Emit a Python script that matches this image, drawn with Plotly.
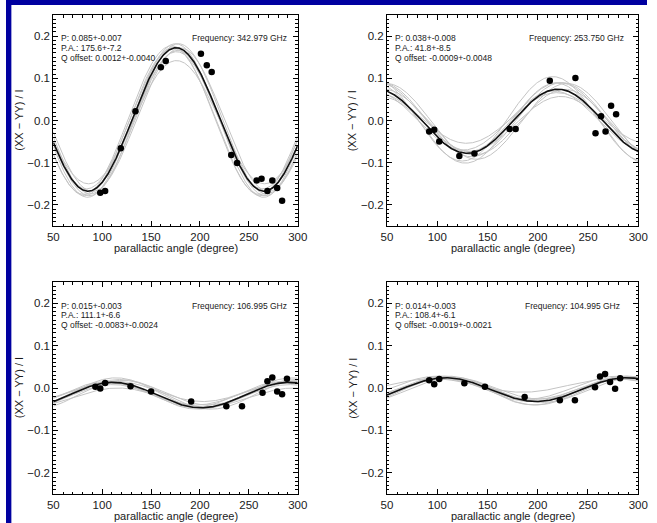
import numpy as np
import plotly.graph_objects as go

# ---------------- data ----------------
freq_labels = ["Frequency: 342.979 GHz", "Frequency: 253.750 GHz",
               "Frequency: 106.995 GHz", "Frequency: 104.995 GHz"]
fit_texts = [
    ["P: 0.085+-0.007", "P.A.: 175.6+-7.2", "Q offset: 0.0012+-0.0040"],
    ["P: 0.038+-0.008", "P.A.: 41.8+-8.5", "Q offset: -0.0009+-0.0048"],
    ["P: 0.015+-0.003", "P.A.: 111.1+-6.6", "Q offset: -0.0083+-0.0024"],
    ["P: 0.014+-0.003", "P.A.: 108.4+-6.1", "Q offset: -0.0019+-0.0021"],
]

# measured points (parallactic angle, (XX-YY)/I)
ang1 = [98, 103, 119, 134, 160, 165, 201, 207, 212, 232, 238, 258, 263, 269, 274, 279, 284]
val1 = [-0.171, -0.167, -0.066, 0.022, 0.126, 0.141, 0.158, 0.131, 0.115, -0.082, -0.101,
        -0.142, -0.138, -0.167, -0.142, -0.160, -0.190]
ang2 = [92, 97, 102, 122, 137, 172, 178, 212, 237.5, 257.5, 263, 267.5, 273, 278]
val2 = [-0.026, -0.022, -0.050, -0.084, -0.078, -0.020, -0.020, 0.094, 0.101, -0.030,
        0.010, -0.026, 0.035, 0.015]
ang3 = [93, 98, 103, 129, 150, 191, 227, 243, 264, 269, 274, 279, 284, 289]
val3 = [0.003, -0.001, 0.012, 0.004, -0.008, -0.032, -0.043, -0.043, -0.011, 0.016,
        0.025, -0.008, -0.015, 0.022]
ang4 = [92, 97, 102, 127, 147.5, 187, 222, 237, 257, 262, 267, 272, 277, 282]
val4 = [0.018, 0.009, 0.021, 0.011, 0.003, -0.021, -0.029, -0.029, 0.002, 0.027,
        0.033, 0.014, -0.002, 0.023]
angles = [ang1, ang2, ang3, ang4]
values = [val1, val2, val3, val4]

# best-fit curve parameters (amplitude, position angle, offset)
best_amp = [0.170, 0.076, 0.030, 0.028]
best_pa = [175.6, 40.0, 111.1, 108.4]
best_off = [0.0024, -0.0018, -0.0166, -0.0038]

# grey realisation curve parameters per panel
grey_amp = [
    [0.182, 0.178, 0.175, 0.172, 0.170, 0.168, 0.165, 0.176, 0.146],
    [0.100, 0.095, 0.088, 0.082, 0.078, 0.070, 0.065, 0.060, 0.090],
    [0.036, 0.032, 0.030, 0.028, 0.026, 0.034, 0.024, 0.030, 0.022],
    [0.034, 0.030, 0.028, 0.026, 0.032, 0.024, 0.029, 0.016, 0.027],
]
grey_pa = [
    [175, 178, 172, 177, 180, 174, 176, 171, 176],
    [35, 38, 44, 41, 47, 36, 43, 39, 49],
    [114, 108, 118, 111, 106, 121, 113, 104, 116],
    [106, 110, 103, 113, 108, 105, 115, 95, 100],
]
grey_off = [
    [0.000, 0.004, -0.003, -0.006, 0.002, 0.006, -0.002, 0.001, -0.004],
    [0.004, -0.006, 0.002, 0.008, -0.004, 0.000, -0.008, 0.006, -0.002],
    [-0.012, -0.018, -0.010, -0.020, -0.014, -0.016, -0.008, -0.015, -0.022],
    [-0.006, -0.002, -0.004, 0.000, -0.008, -0.003, -0.005, 0.006, 0.001],
]

x_ticks = [50, 100, 150, 200, 250, 300]
y_ticks = [-0.2, -0.1, 0.0, 0.1, 0.2]
y_tick_text = ["\u22120.2", "\u22120.1", "0.0", "0.1", "0.2"]
freq_x = [291, 288.3, 291.5, 283.5]

# ---------------- layout geometry ----------------
W, H = 657, 523
xdom = [(48.5, 299), (390.5, 648), (48.5, 299), (390.5, 648)]
ydom = [(15, 226), (15, 226), (282, 494), (282, 494)]


def model(chi, a, pa, off):
    chi = np.asarray(chi, dtype=float)
    return a * np.cos(np.radians(2 * (chi - pa))) + off


chi = np.linspace(50, 300, 501)
FONT = "Liberation Sans, Arial, sans-serif"
TXT = "#1a1a1a"

fig = go.Figure()
layout = dict(
    width=W, height=H, margin=dict(l=0, r=0, t=0, b=0),
    paper_bgcolor="white", plot_bgcolor="white", showlegend=False,
    font=dict(family=FONT, color=TXT),
)
annotations = []
shapes = [
    dict(type="rect", xref="paper", yref="paper", x0=0, x1=5.5 / W, y0=0, y1=1,
         fillcolor="#0000A0", line=dict(width=0), layer="below"),
    dict(type="rect", xref="paper", yref="paper", x0=0, x1=1, y0=1 - 5 / H, y1=1,
         fillcolor="#0000A0", line=dict(width=0), layer="below"),
]

for i in range(4):
    n = "" if i == 0 else str(i + 1)
    xa, ya = "x" + n, "y" + n
    for a, pa, off in zip(grey_amp[i], grey_pa[i], grey_off[i]):
        fig.add_trace(go.Scatter(x=chi, y=model(chi, a, pa, off), mode="lines",
                                 line=dict(color="#c4c4c4", width=1),
                                 xaxis=xa, yaxis=ya, hoverinfo="skip"))
    fig.add_trace(go.Scatter(x=chi, y=model(chi, best_amp[i], best_pa[i], best_off[i]),
                             mode="lines", line=dict(color="#111111", width=1.6),
                             xaxis=xa, yaxis=ya))
    fig.add_trace(go.Scatter(x=angles[i], y=values[i], mode="markers",
                             marker=dict(color="black", size=6.5),
                             xaxis=xa, yaxis=ya))

    x0, x1 = xdom[i]
    y0, y1 = ydom[i]
    axcommon = dict(showgrid=False, zeroline=False, showline=True, linecolor="black",
                    linewidth=1, mirror="allticks", ticks="inside", tickcolor="black",
                    ticklen=5, tickwidth=1,
                    tickfont=dict(family=FONT, size=11.5, color=TXT))
    layout["xaxis" + n] = dict(
        axcommon, domain=[x0 / W, x1 / W], range=[50, 300], anchor=ya,
        tickvals=x_ticks, ticktext=[str(t) for t in x_ticks],
        minor=dict(dtick=10, tick0=50, ticks="inside", ticklen=2.5, tickcolor="black"),
    )
    layout["yaxis" + n] = dict(
        axcommon, domain=[1 - y1 / H, 1 - y0 / H], range=[-0.25, 0.25], anchor=xa,
        tickvals=y_ticks, ticktext=y_tick_text,
        minor=dict(dtick=0.01, tick0=0, ticks="inside", ticklen=2.5, tickcolor="black"),
    )

    # fit text
    for k, t in enumerate(fit_texts[i]):
        annotations.append(dict(x=55.5, y=0.1945 - 0.0228 * k, xref=xa, yref=ya, text=t,
                                showarrow=False, xanchor="left", yanchor="middle",
                                font=dict(family=FONT, size=8.5, color=TXT)))
    annotations.append(dict(x=freq_x[i], y=0.1945, xref=xa, yref=ya, text=freq_labels[i],
                            showarrow=False, xanchor="right", yanchor="middle",
                            font=dict(family=FONT, size=8.5, color=TXT)))
    # axis titles
    annotations.append(dict(x=(x0 + x1) / 2 / W, y=1 - (y1 + 22) / H, xref="paper",
                            yref="paper", text="parallactic angle (degree)", showarrow=False,
                            xanchor="center", yanchor="middle",
                            font=dict(family=FONT, size=11, color=TXT)))
    annotations.append(dict(x=(x0 - 35) / W, y=1 - (y0 + y1) / 2 / H, xref="paper",
                            yref="paper", text="(XX \u2212 YY) / I", showarrow=False,
                            textangle=-90, xanchor="center", yanchor="middle",
                            font=dict(family=FONT, size=11, color=TXT)))

layout["annotations"] = annotations
layout["shapes"] = shapes
fig.update_layout(**layout)
fig.write_html("out.html")
